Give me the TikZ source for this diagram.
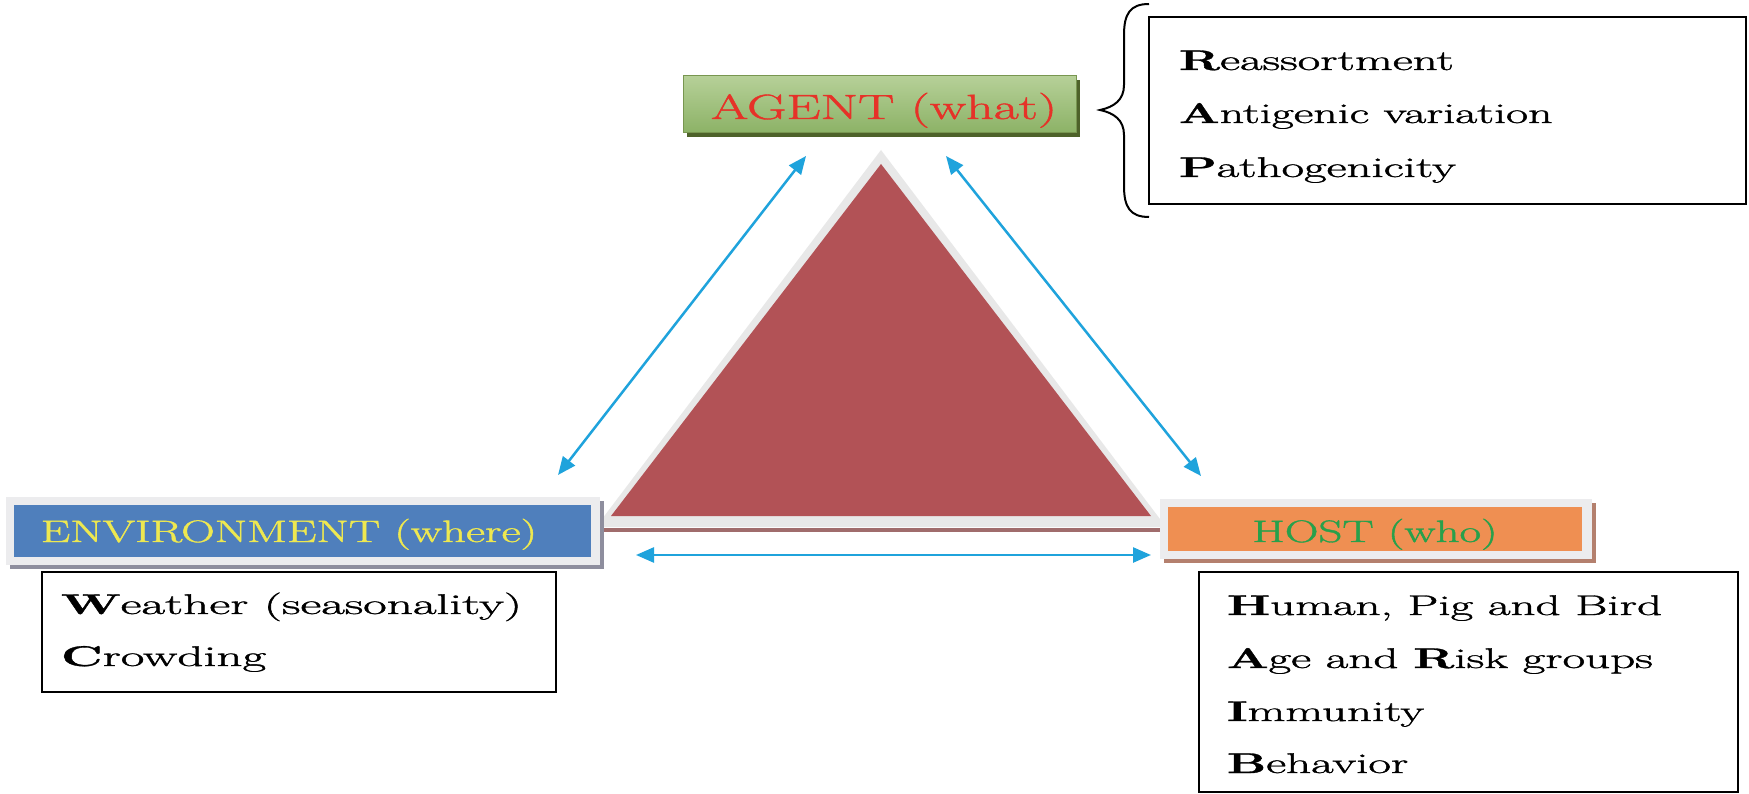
\documentclass[tikz,border=0pt]{standalone}
\usepackage{graphicx}
\usepackage{fontspec}
\setmainfont{Latin Modern Roman}[FakeBold=1.1]
\usetikzlibrary{arrows.meta,shadows}
\definecolor{arrowblue}{RGB}{31,163,220}
\definecolor{agentred}{RGB}{230,50,40}
\definecolor{envyellow}{RGB}{238,232,80}
\definecolor{hostgreen}{RGB}{40,160,75}
\definecolor{trired}{RGB}{178,82,86}
\definecolor{trigrey}{RGB}{232,232,232}
\definecolor{agenttop}{RGB}{182,208,152}
\definecolor{agentbot}{RGB}{140,178,102}
\definecolor{agentedge}{RGB}{120,150,80}
\definecolor{agentshadow}{RGB}{78,98,42}
\definecolor{envblue}{RGB}{79,127,188}
\definecolor{framegrey}{RGB}{236,236,238}
\definecolor{envshadow}{RGB}{142,142,158}
\definecolor{hostorange}{RGB}{239,143,82}
\definecolor{hostshadow}{RGB}{180,128,110}
\definecolor{brownline}{RGB}{160,108,108}
\newcommand{\liststretch}[1]{\scalebox{1.72}[1]{#1}}
\newcommand{\titlestretch}[1]{\scalebox{1.51}[1]{#1}}
\tikzset{
  titletxt/.style={anchor=base, font=\fontsize{31}{36}\selectfont},
  listtxt/.style={anchor=base west, font=\fontsize{28.5}{34}\selectfont},
  listbox/.style={draw=black, line width=2.5pt, rectangle},
  link/.style={arrowblue, line width=2.5pt, {Triangle[length=18pt,width=15pt]}-{Triangle[length=18pt,width=15pt]}},
}
\begin{document}
\begin{tikzpicture}[x=1pt,y=-1pt, every node/.style={inner sep=0pt, outer sep=0pt}]
\useasboundingbox (0,0) rectangle (1749,794);
\fill[white] (0,0) rectangle (1749,794);

% triangle
\fill[trigrey] (596,527) -- (881,150) -- (1166,527) -- cycle;
\fill[trired] (611,516) -- (881,164) -- (1151,516) -- cycle;
\draw[brownline, line width=4pt] (603,530) -- (1160,530);

% agent
\node[rectangle, minimum width=393pt, minimum height=57pt, top color=agenttop, bottom color=agentbot, draw=agentedge, line width=1pt,
  general shadow={fill=agentshadow, shadow xshift=4pt, shadow yshift=-4pt}] (agentbox) at (879.5,104.5) {};
\node[titletxt, text=agentred, font=\fontsize{35}{40}\selectfont] (agentlbl) at (884,119) {\scalebox{1.55}[1]{AGENT (what)}};

% agent list
\draw[line width=2pt] (1149,4) .. controls (1130,4) and (1124,14) .. (1124,35) -- (1124,85)
  .. controls (1124,100) and (1114,107) .. (1100,110) .. controls (1114,113) and (1124,120) .. (1124,135)
  -- (1124,186) .. controls (1124,207) and (1130,217) .. (1149,217);
\node[listbox, minimum width=597pt, minimum height=187pt] (agentlist) at (1447.5,110.5) {};
\node[listtxt] (a1) at (1179,70) {\liststretch{\textbf{R}eassortment}};
\node[listtxt] (a2) at (1179,123) {\scalebox{1.68}[1]{\textbf{A}ntigenic variation}};
\node[listtxt] (a3) at (1179,177) {\liststretch{\textbf{P}athogenicity}};

% environment
\node[rectangle, minimum width=594pt, minimum height=68pt, fill=framegrey,
  general shadow={fill=envshadow, shadow xshift=4pt, shadow yshift=-4pt}] (envframe) at (303,531) {};
\node[rectangle, minimum width=577pt, minimum height=52pt, fill=envblue] (envbox) at (302.5,531) {};
\node[titletxt, text=envyellow] (envlbl) at (289,542) {\titlestretch{ENVIRONMENT (where)}};
\node[listbox, minimum width=514pt, minimum height=120pt] (envlist) at (299,632) {};
\node[listtxt] (e1) at (61,614) {\scalebox{1.8}[1]{\textbf{W}eather (seasonality)}};
\node[listtxt] (e2) at (61,666) {\scalebox{1.8}[1]{\textbf{C}rowding}};

% host
\node[rectangle, minimum width=432pt, minimum height=60pt, fill=framegrey,
  general shadow={fill=hostshadow, shadow xshift=4pt, shadow yshift=-4pt}] (hostframe) at (1376,529) {};
\node[rectangle, minimum width=414pt, minimum height=44pt, fill=hostorange] (hostbox) at (1375,529) {};
\node[titletxt, text=hostgreen] (hostlbl) at (1375,542) {\titlestretch{HOST (who)}};
\node[listbox, minimum width=539pt, minimum height=220pt] (hostlist) at (1468.5,682) {};
\node[listtxt] (h1) at (1227,615) {\liststretch{\textbf{H}uman, Pig and Bird}};
\node[listtxt] (h2) at (1227,668) {\liststretch{\textbf{A}ge and \textbf{R}isk groups}};
\node[listtxt] (h3) at (1227,721) {\liststretch{\textbf{I}mmunity}};
\node[listtxt] (h4) at (1227,773) {\liststretch{\textbf{B}ehavior}};

% arrows
\coordinate (eA) at (558,475); \coordinate (aE) at (806,156);
\coordinate (aH) at (946,156); \coordinate (hA) at (1201,476);
\coordinate (eH) at (636,555); \coordinate (hE) at (1151,555);
\draw[link] (eA) -- (aE);
\draw[link] (aH) -- (hA);
\draw[link] (eH) -- (hE);
\end{tikzpicture}
\end{document}
